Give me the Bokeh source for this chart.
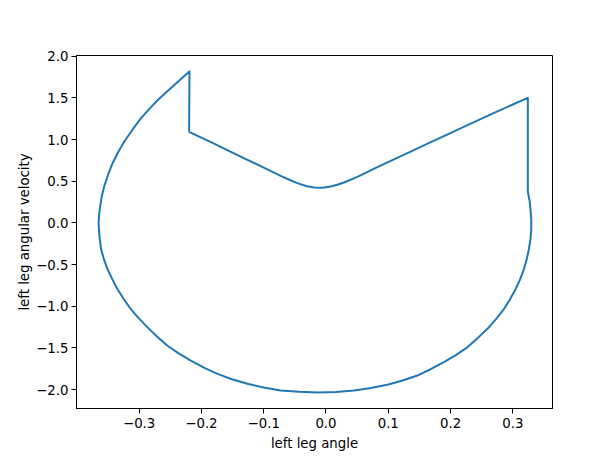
from bokeh.plotting import figure
from bokeh.models import FixedTicker, Range1d
from bokeh.embed import file_html
from bokeh.resources import INLINE

# Phase-space trajectory (left leg angle, left leg angular velocity)
angle = [-0.2198, -0.1797, -0.1636, -0.1261, -0.0990, -0.0727, -0.0590, -0.0459,
         -0.0320, -0.0193, -0.0112, -0.0032, 0.0075, 0.0180, 0.0289, 0.0504,
         0.0825, 0.1100, 0.1359, 0.1630, 0.1893, 0.2160, 0.2429, 0.2700, 0.2963,
         0.3241,
         0.3241, 0.3270, 0.3284, 0.3296, 0.3296, 0.3282, 0.3257, 0.3222, 0.3177,
         0.3115, 0.3043, 0.2955, 0.2856, 0.2730, 0.2589, 0.2430, 0.2269, 0.2085,
         0.1893, 0.1680, 0.1466, 0.1230, 0.0985, 0.0720, 0.0449, 0.0160, -0.0138,
         -0.0430, -0.0727, -0.1000, -0.1261, -0.1510, -0.1742, -0.1960, -0.2171,
         -0.2365, -0.2545, -0.2710, -0.2865, -0.3005, -0.3133, -0.3245, -0.3347,
         -0.3430, -0.3507, -0.3565, -0.3610, -0.3638, -0.3651,
         -0.3643, -0.3626, -0.3600, -0.3562, -0.3500, -0.3427, -0.3340, -0.3241,
         -0.3110, -0.2973, -0.2840, -0.2705, -0.2570, -0.2439, -0.2315, -0.2192,
         -0.2198]
velocity = [1.093, 0.950, 0.892, 0.757, 0.660, 0.564, 0.518, 0.477,
            0.443, 0.425, 0.421, 0.424, 0.437, 0.458, 0.485, 0.553,
            0.668, 0.765, 0.855, 0.950, 1.042, 1.135, 1.227, 1.320, 1.408,
            1.499,
            0.377, 0.260, 0.159, 0.040, -0.080, -0.200, -0.319, -0.440, -0.557,
            -0.680, -0.796, -0.915, -1.035, -1.155, -1.273, -1.385, -1.492, -1.585,
            -1.671, -1.755, -1.831, -1.890, -1.942, -1.980, -2.010, -2.028, -2.033,
            -2.025, -2.010, -1.975, -1.930, -1.875, -1.810, -1.735, -1.652,
            -1.565, -1.473, -1.365, -1.253, -1.145, -1.035, -0.915, -0.796,
            -0.677, -0.557, -0.438, -0.319, -0.160, 0.000,
            0.100, 0.198, 0.320, 0.437, 0.575, 0.716, 0.845, 0.974,
            1.115, 1.253, 1.365, 1.471, 1.563, 1.650, 1.735, 1.817,
            1.093]

x_ticks = [-0.3, -0.2, -0.1, 0.0, 0.1, 0.2, 0.3]
x_tick_labels = ["−0.3", "−0.2", "−0.1", "0.0", "0.1", "0.2", "0.3"]
y_ticks = [-2.0, -1.5, -1.0, -0.5, 0.0, 0.5, 1.0, 1.5, 2.0]
y_tick_labels = ["−2.0", "−1.5", "−1.0", "−0.5", "0.0", "0.5", "1.0", "1.5", "2.0"]

p = figure(width=606, height=453, output_backend="svg", toolbar_location=None,
           x_range=Range1d(-0.4006, 0.3637), y_range=Range1d(-2.226, 2.008),
           min_border_left=76, min_border_right=54, min_border_top=55,
           min_border_bottom=43)

p.line(angle, velocity, line_color="#1f77b4", line_width=2, line_join="round")

p.grid.visible = False
p.background_fill_color = "white"
p.border_fill_color = "white"
p.outline_line_color = "black"
p.outline_line_alpha = 1
p.outline_line_width = 1

for ax, ticks, labels in ((p.xaxis[0], x_ticks, x_tick_labels), (p.yaxis[0], y_ticks, y_tick_labels)):
    ax.ticker = FixedTicker(ticks=ticks)
    ax.major_label_overrides = {t: l for t, l in zip(ticks, labels)}
    ax.major_tick_out = 5
    ax.major_tick_in = 0
    ax.minor_tick_line_color = None
    ax.axis_line_color = "black"
    ax.major_tick_line_color = "black"
    ax.major_label_text_font = "DejaVu Sans"
    ax.major_label_text_font_size = "13.3px"
    ax.major_label_text_color = "black"
    ax.major_label_standoff = 4
    ax.axis_label_text_font = "DejaVu Sans"
    ax.axis_label_text_font_size = "13.3px"
    ax.axis_label_text_font_style = "normal"
    ax.axis_label_text_color = "black"
    ax.axis_label_standoff = 5

p.yaxis[0].major_label_standoff = 3
p.yaxis[0].axis_label_standoff = 1

p.xaxis.axis_label = "left leg angle"
p.yaxis.axis_label = "left leg angular velocity"

open("out.html", "w").write(file_html(p, INLINE))
